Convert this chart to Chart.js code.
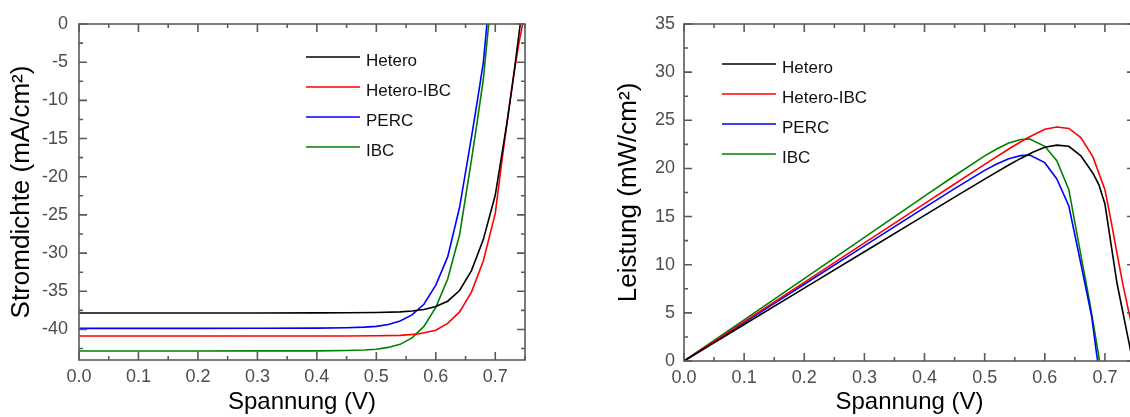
<!DOCTYPE html>
<html><head><meta charset="utf-8">
<script src="https://cdn.jsdelivr.net/npm/chart.js@4.4.1/dist/chart.umd.min.js"></script>
<style>
html,body{margin:0;padding:0;background:#fff;overflow:hidden;width:1130px;height:417px;position:relative;}
#c1{position:absolute;left:0;top:0;}
#c2{position:absolute;left:570px;top:0;}
</style></head><body>
<canvas id="c1" width="560" height="417"></canvas>
<canvas id="c2" width="570" height="417"></canvas>
<script>
// ---------- data ----------
const seriesNames = ['Hetero', 'Hetero-IBC', 'PERC', 'IBC'];
const seriesColors = ['#000000', '#ff0000', '#0000ff', '#008000'];

// Current density (mA/cm²) vs voltage (V)
const jvVoltsHetero = [0, 0.1, 0.2, 0.3, 0.4, 0.45, 0.5, 0.54, 0.56, 0.58, 0.6, 0.62, 0.64, 0.66, 0.68, 0.7, 0.72, 0.73, 0.742];
const jvHetero      = [-37.85, -37.85, -37.85, -37.84, -37.83, -37.82, -37.78, -37.7, -37.58, -37.38, -37.0, -36.3, -34.9, -32.3, -28.2, -22.4, -12.8, -7.3, 0];

const jvVoltsHeteroIBC = [0, 0.1, 0.2, 0.3, 0.4, 0.45, 0.5, 0.54, 0.57, 0.6, 0.62, 0.64, 0.66, 0.68, 0.7, 0.71, 0.72, 0.73, 0.74, 0.746];
const jvHeteroIBC      = [-40.86, -40.86, -40.86, -40.86, -40.85, -40.85, -40.83, -40.78, -40.6, -40.1, -39.2, -37.7, -35.1, -31.0, -24.8, -18.6, -12.8, -7.2, -2.4, 0];

const jvVoltsPERC = [0, 0.1, 0.2, 0.3, 0.4, 0.45, 0.48, 0.5, 0.52, 0.54, 0.56, 0.58, 0.6, 0.62, 0.64, 0.66, 0.67, 0.68, 0.686];
const jvPERC      = [-39.86, -39.86, -39.86, -39.85, -39.83, -39.78, -39.7, -39.6, -39.35, -38.9, -38.1, -36.7, -34.2, -30.5, -24.0, -14.8, -10.0, -5.0, 0];

const jvVoltsIBC = [0, 0.1, 0.2, 0.3, 0.4, 0.45, 0.48, 0.5, 0.52, 0.54, 0.56, 0.58, 0.6, 0.62, 0.64, 0.66, 0.67, 0.68, 0.689];
const jvIBC      = [-42.82, -42.82, -42.82, -42.81, -42.8, -42.76, -42.7, -42.6, -42.35, -41.95, -41.1, -39.6, -37.1, -33.4, -27.6, -17.8, -12.6, -7.2, 0];

// Power density (mW/cm²) vs voltage (V)
const pvVoltsHetero = [0, 0.1, 0.2, 0.3, 0.4, 0.45, 0.5, 0.54, 0.56, 0.58, 0.6, 0.62, 0.64, 0.66, 0.68, 0.69, 0.7, 0.72, 0.74, 0.746];
const pvHetero      = [0, 3.79, 7.57, 11.35, 15.13, 17.02, 18.89, 20.36, 21.04, 21.68, 22.2, 22.42, 22.3, 21.3, 19.5, 18.3, 16.3, 8.1, 1.9, 0];

const pvVoltsHeteroIBC = [0, 0.1, 0.2, 0.3, 0.4, 0.45, 0.5, 0.54, 0.57, 0.6, 0.62, 0.64, 0.66, 0.68, 0.7, 0.71, 0.72, 0.73, 0.74, 0.75, 0.758];
const pvHeteroIBC      = [0, 4.09, 8.17, 12.26, 16.34, 18.38, 20.42, 22.02, 23.14, 24.06, 24.3, 24.15, 23.2, 21.2, 17.8, 14.6, 11.2, 7.9, 5.0, 2.2, 0];

const pvVoltsPERC = [0, 0.1, 0.2, 0.3, 0.4, 0.45, 0.5, 0.52, 0.54, 0.56, 0.575, 0.6, 0.62, 0.64, 0.66, 0.678, 0.686, 0.688];
const pvPERC      = [0, 3.99, 7.97, 11.96, 15.93, 17.9, 19.8, 20.46, 21.0, 21.33, 21.38, 20.6, 18.9, 16.1, 10.1, 4.6, 0.8, 0];

const pvVoltsIBC = [0, 0.1, 0.2, 0.3, 0.4, 0.45, 0.5, 0.52, 0.54, 0.56, 0.575, 0.6, 0.62, 0.64, 0.66, 0.675, 0.689, 0.691];
const pvIBC      = [0, 4.28, 8.56, 12.84, 17.12, 19.24, 21.3, 22.02, 22.65, 23.0, 23.06, 22.3, 20.8, 17.8, 11.0, 6.0, 0.8, 0];

// tick labels
const voltageTicks = [0, 0.1, 0.2, 0.3, 0.4, 0.5, 0.6, 0.7];
const currentTicks = [0, -5, -10, -15, -20, -25, -30, -35, -40];
const powerTicks = [0, 5, 10, 15, 20, 25, 30, 35];

// ---------- helpers ----------
const pts = (xs, ys) => xs.map((x, i) => ({x: x, y: ys[i]}));
Chart.defaults.font.family = '"Liberation Sans", Arial, sans-serif';

function makeDatasets(pairs) {
  return pairs.map((p, i) => ({
    label: seriesNames[i],
    data: pts(p[0], p[1]),
    borderColor: seriesColors[i],
    backgroundColor: seriesColors[i],
    borderWidth: 1.6,
    pointRadius: 0,
    showLine: true,
    fill: false,
    tension: 0
  }));
}

const frameTicks = {
  id: 'frameTicks',
  afterDatasetsDraw(chart, args, o) {
    const ctx = chart.ctx, a = chart.chartArea, xs = chart.scales.x, ys = chart.scales.y;
    ctx.save();
    ctx.strokeStyle = '#5a5a5a';
    ctx.lineWidth = 1.6;
    ctx.beginPath();
    const nx = Math.round((xs.max - xs.min) / o.xMinor);
    for (let k = 0; k <= nx; k++) {
      const v = xs.min + k * o.xMinor;
      const r = v / o.xMajor;
      const len = Math.abs(r - Math.round(r)) < 1e-6 ? 8 : 4;
      const px = xs.getPixelForValue(v);
      ctx.moveTo(px, a.bottom); ctx.lineTo(px, a.bottom - len);
      ctx.moveTo(px, a.top); ctx.lineTo(px, a.top + len);
    }
    const ny = Math.floor((ys.max - ys.min) / o.yMinor + 1e-6);
    for (let k = 0; k <= ny; k++) {
      const v = o.yFromTop ? ys.max - k * o.yMinor : ys.min + k * o.yMinor;
      const r = v / o.yMajor;
      const len = Math.abs(r - Math.round(r)) < 1e-6 ? 8 : 4;
      const py = ys.getPixelForValue(v);
      ctx.moveTo(a.left, py); ctx.lineTo(a.left + len, py);
      ctx.moveTo(a.right, py); ctx.lineTo(a.right - len, py);
    }
    ctx.stroke();
    ctx.strokeRect(a.left, a.top, a.right - a.left, a.bottom - a.top);
    ctx.restore();
  }
};

const customLegend = {
  id: 'customLegend',
  afterDraw(chart, args, o) {
    const ctx = chart.ctx;
    ctx.save();
    chart.data.datasets.forEach((ds, i) => {
      const y = o.y0 + i * o.dy;
      ctx.strokeStyle = ds.borderColor;
      ctx.lineWidth = 1.6;
      ctx.beginPath(); ctx.moveTo(o.x0, y); ctx.lineTo(o.x1, y); ctx.stroke();
      ctx.fillStyle = '#111';
      ctx.font = '17px "Liberation Sans", Arial, sans-serif';
      ctx.textBaseline = 'alphabetic';
      ctx.textAlign = 'left';
      ctx.fillText(ds.label, o.x1 + 6, y + 9);
    });
    ctx.restore();
  }
};

function makeChart(id, datasets, cfg) {
  return new Chart(document.getElementById(id), {
    type: 'scatter',
    data: {datasets: datasets},
    plugins: [frameTicks, customLegend],
    options: {
      responsive: false,
      animation: false,
      events: [],
      layout: {padding: {top: 24, right: cfg.padRight, bottom: 0, left: 0}},
      plugins: {
        legend: {display: false},
        tooltip: {enabled: false},
        frameTicks: cfg.frame,
        customLegend: cfg.legend
      },
      scales: {
        x: {
          type: 'linear', min: 0, max: 0.75,
          afterBuildTicks: s => { s.ticks = voltageTicks.map(v => ({value: v})); },
          afterFit: s => { s.height = cfg.xHeight; },
          grid: {display: false, drawTicks: false},
          border: {display: false},
          ticks: {color: '#4d4d4d', font: {size: 18}, padding: 6, maxRotation: 0, autoSkip: false,
                  callback: v => Number(v).toFixed(1)},
          title: {display: true, text: 'Spannung (V)', color: '#000', font: {size: 24}, padding: {top: 0, bottom: 0}}
        },
        y: {
          type: 'linear', min: cfg.yMin, max: cfg.yMax,
          afterBuildTicks: s => { s.ticks = cfg.yTicks.map(v => ({value: v})); },
          afterFit: s => { s.width = cfg.yWidth; },
          grid: {display: false, drawTicks: false},
          border: {display: false},
          ticks: {color: '#4d4d4d', font: {size: 18}, padding: cfg.yTickPad, autoSkip: false,
                  callback: v => String(v)},
          title: {display: true, text: cfg.yTitle, color: '#000', font: {size: 26}, padding: {top: cfg.yTitlePad, bottom: 0}}
        }
      }
    }
  });
}

makeChart('c1', makeDatasets([
  [jvVoltsHetero, jvHetero], [jvVoltsHeteroIBC, jvHeteroIBC], [jvVoltsPERC, jvPERC], [jvVoltsIBC, jvIBC]
]), {
  padRight: 35, xHeight: 57, yWidth: 79, yMin: -44, yMax: 0, yTicks: currentTicks, yTickPad: 11,
  yTitle: 'Stromdichte (mA/cm²)', yTitlePad: 6,
  frame: {xMinor: 0.05, xMajor: 0.1, yMinor: 2.5, yMajor: 5, yFromTop: true},
  legend: {x0: 306, x1: 360, y0: 57, dy: 30}
});

makeChart('c2', makeDatasets([
  [pvVoltsHetero, pvHetero], [pvVoltsHeteroIBC, pvHeteroIBC], [pvVoltsPERC, pvPERC], [pvVoltsIBC, pvIBC]
]), {
  padRight: 5, xHeight: 56, yWidth: 114, yMin: 0, yMax: 35, yTicks: powerTicks, yTickPad: 9,
  yTitle: 'Leistung (mW/cm²)', yTitlePad: 43,
  frame: {xMinor: 0.05, xMajor: 0.1, yMinor: 2.5, yMajor: 5, yFromTop: false},
  legend: {x0: 152, x1: 206, y0: 64, dy: 30}
});
</script>
</body></html>
